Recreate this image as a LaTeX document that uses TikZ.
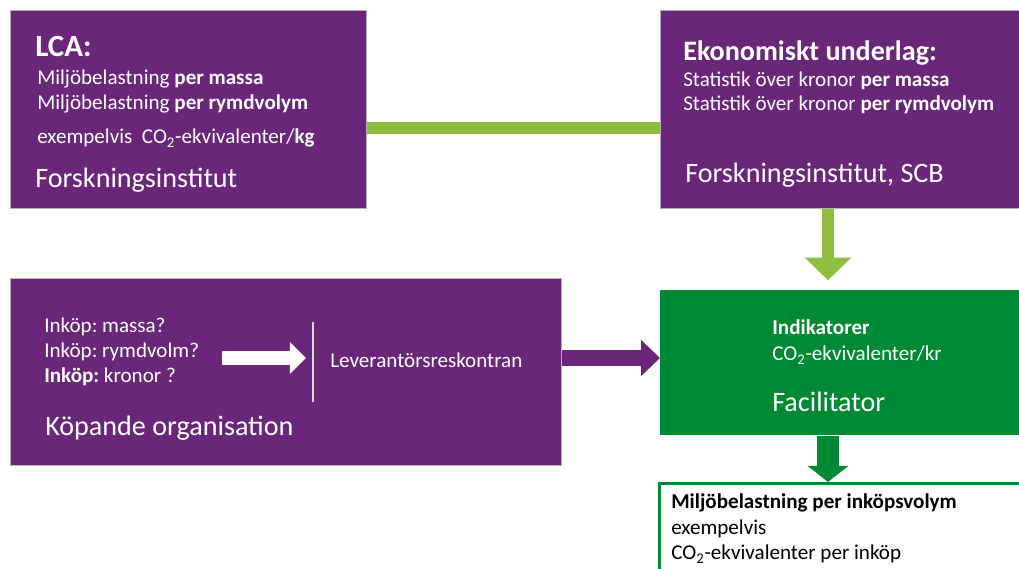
\documentclass[tikz,border=0pt]{standalone}
\usepackage{fontspec}
\setmainfont{Carlito}
\usetikzlibrary{arrows.meta,calc}
\frenchspacing

\begin{document}
\begin{tikzpicture}[x=0.025cm, y=-0.025cm,
    kasten/.style={rectangle, draw=black!30, line width=0.6pt, inner sep=0pt, anchor=north west},
    txt/.style={anchor=base west, inner sep=0pt, text=white, font=\fontsize{15}{18}\selectfont},
    gross/.style={font=\fontsize{20}{24}\selectfont}]
        % Definiere die Farben
        \definecolor{lila}{RGB}{106, 39, 121}
        \definecolor{hellgruen}{RGB}{141, 190, 63}
        \definecolor{gruen}{RGB}{0, 137, 52}

        % Seitenrand
        \useasboundingbox (0, 0) rectangle (1019, 569);
        \fill[white] (0, 0) rectangle (1019, 569);

        % Zeichne die Kaesten
        \node[kasten, fill=lila, minimum width=8.9cm, minimum height=4.95cm] (lca) at (10, 10) {};
        \node[kasten, fill=lila, minimum width=9.25cm, minimum height=4.95cm] (ekon) at (660, 10) {};
        \node[kasten, fill=lila, minimum width=13.775cm, minimum height=4.675cm] (kop) at (10, 278) {};
        \node[kasten, fill=gruen, draw=none, minimum width=9.25cm, minimum height=3.625cm] (fac) at (660, 290) {};
        \node[kasten, fill=white, draw=gruen, line width=2.2pt, minimum width=9.5cm, minimum height=2.5cm] (erg) at (658, 482) {};

        % Beschriftung LCA
        \node[txt, font=\fontsize{22}{26}\selectfont\bfseries] (lcatitel) at (35, 57) {LCA:};
        \node[txt] (lcamassa) at (37, 85) {Miljöbelastning \textbf{per massa}};
        \node[txt] (lcavolym) at (37, 110) {Miljöbelastning \textbf{per rymdvolym}};
        \node[txt] (lcaex) at (37, 144) {exempelvis\ \ CO\textsubscript{2}-ekvivalenter/\textbf{kg}};
        \node[txt, gross] (lcaorg) at (35, 188) {Forskningsinstitut};

        % Beschriftung Ekonomiskt underlag
        \node[txt, font=\fontsize{20}{24}\selectfont\bfseries] (ekontitel) at (683, 61) {Ekonomiskt underlag:};
        \node[txt] (ekonmassa) at (683, 87) {Statistik över kronor \textbf{per massa}};
        \node[txt] (ekonvolym) at (683, 111) {Statistik över kronor \textbf{per rymdvolym}};
        \node[txt, gross] (ekonorg) at (685, 183) {Forskningsinstitut, SCB};

        % Beschriftung Koepande organisation
        \node[txt] (inkopmassa) at (44, 333) {Inköp: massa?};
        \node[txt] (inkopvolym) at (44, 358) {Inköp: rymdvolm?};
        \node[txt] (inkopkronor) at (44, 383) {\textbf{Inköp:} kronor ?};
        \node[txt] (lev) at (330, 368) {Leverantörsreskontran};
        \node[txt, gross] (koporg) at (45, 436) {Köpande organisation};
        \draw[white!80!lila, line width=1.4pt] (313, 322) -- (313, 402);

        % Beschriftung Facilitator
        \node[txt, font=\fontsize{15}{18}\selectfont\bfseries] (indtitel) at (772, 335) {Indikatorer};
        \node[txt] (indkr) at (772, 361) {CO\textsubscript{2}-ekvivalenter/kr};
        \node[txt, gross] (facorg) at (772, 412) {Facilitator};

        % Beschriftung Ergebnis
        \node[txt, text=black, font=\fontsize{15}{18}\selectfont\bfseries] (ergtitel) at (671, 509) {Miljöbelastning per inköpsvolym};
        \node[txt, text=black] (ergex) at (671, 534) {exempelvis};
        \node[txt, text=black] (ergco) at (671, 560) {CO\textsubscript{2}-ekvivalenter per inköp};

        % Pfeile
        \coordinate (pilstart) at (222, 358);
        \coordinate (pilende) at (306, 358);
        \coordinate (mitte) at (828, 0);
        \draw[white, line width=10pt, -{Triangle[length=11.5pt, width=22pt]}] (pilstart) -- (pilende);
        \draw[hellgruen, line width=8.5pt]
            ($(lca.north east)!0.595!(lca.south east)$) -- ($(ekon.north west)!0.595!(ekon.south west)$);
        \draw[hellgruen, line width=8pt, -{Triangle[length=16pt, width=32pt]}, shorten >=7pt]
            (ekon.south -| mitte) -- (fac.north -| mitte);
        \draw[lila, line width=12pt, -{Triangle[length=13.5pt, width=25pt]}]
            (kop.east |- pilstart) -- (fac.west |- pilstart);
        \draw[gruen, line width=15pt, -{Triangle[length=11.5pt, width=28.5pt]}]
            (fac.south -| mitte) -- (erg.north -| mitte);
    \end{tikzpicture}
\end{document}
